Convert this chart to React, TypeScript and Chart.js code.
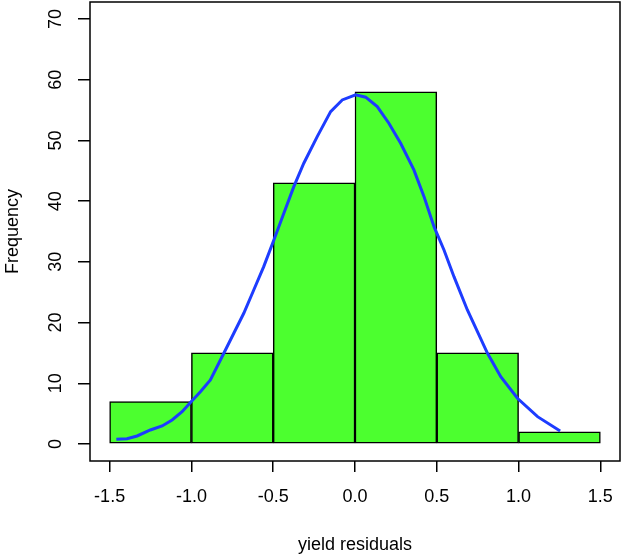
import React, { useEffect, useRef } from "react";
import { Chart, registerables } from "chart.js";

Chart.register(...registerables);

const binCenters = [-1.25, -0.75, -0.25, 0.25, 0.75, 1.25];
const binCounts = [7, 15, 43, 58, 15, 2];

const curveX = [-1.459, -1.394, -1.332, -1.251, -1.179, -1.118, -1.057, -1.002, -0.945, -0.884, -0.802, -0.741, -0.68, -0.619, -0.558, -0.496, -0.435, -0.374, -0.313, -0.231, -0.149, -0.078, 0.004, 0.065, 0.136, 0.207, 0.279, 0.36, 0.422, 0.483, 0.544, 0.605, 0.687, 0.81, 0.891, 0.993, 1.116, 1.254];
const curveY = [0.77, 0.87, 1.32, 2.31, 2.97, 3.95, 5.32, 6.97, 8.62, 10.54, 14.94, 18.24, 21.53, 25.37, 29.21, 33.61, 38.01, 42.39, 46.24, 50.63, 54.74, 56.67, 57.5, 57.12, 55.57, 52.83, 49.54, 45.14, 40.74, 35.8, 31.96, 27.56, 22.08, 14.94, 11.09, 7.53, 4.5, 2.14];

const xTicks = [-1.5, -1.0, -0.5, 0.0, 0.5, 1.0, 1.5];
const yTicks = [0, 10, 20, 30, 40, 50, 60, 70];

const xLabel = "yield residuals";
const yLabel = "Frequency";

const FONT = "'Liberation Sans', Arial, Helvetica, sans-serif";

const boxPlugin = {
  id: "boxPlugin",
  afterDraw(chart: any) {
    const { ctx, chartArea } = chart;
    ctx.save();
    ctx.strokeStyle = "#000";
    ctx.lineWidth = 1.5;
    ctx.strokeRect(chartArea.left, chartArea.top, chartArea.right - chartArea.left, chartArea.bottom - chartArea.top);
    ctx.restore();
  },
};

export default function App() {
  const ref = useRef<HTMLCanvasElement | null>(null);

  useEffect(() => {
    if (!ref.current) return;
    const chart = new Chart(ref.current, {
      type: "bar",
      data: {
        datasets: [
          {
            type: "line",
            data: curveX.map((x, i) => ({ x, y: curveY[i] })),
            borderColor: "#1d3cff",
            borderWidth: 3,
            pointRadius: 0,
            tension: 0,
            fill: false,
            order: 0,
          } as any,
          {
            type: "bar",
            data: binCenters.map((x, i) => ({ x, y: binCounts[i] })),
            backgroundColor: "#4cff2f",
            borderColor: "#000",
            borderWidth: 1.5,
            borderSkipped: false,
            barPercentage: 1,
            categoryPercentage: 1,
            order: 1,
          } as any,
        ],
      },
      options: {
        animation: false,
        responsive: false,
        maintainAspectRatio: false,
        layout: { padding: { left: 0, top: 2, right: 1, bottom: 0 } },
        plugins: { legend: { display: false }, tooltip: { enabled: false } },
        scales: {
          x: {
            type: "linear",
            min: -1.62,
            max: 1.62,
            offset: false,
            afterBuildTicks: (s: any) => {
              s.ticks = xTicks.map((v) => ({ value: v }));
            },
            afterFit: (s: any) => {
              s.height = 97;
              s.paddingLeft = 0;
              s.paddingRight = 0;
            },
            grid: {
              display: true,
              drawOnChartArea: false,
              drawTicks: true,
              tickLength: 11,
              color: "#000",
              lineWidth: 1.5,
              offset: false,
            },
            border: { display: false },
            ticks: {
              autoSkip: false,
              maxRotation: 0,
              minRotation: 0,
              padding: 14,
              color: "#000",
              font: { family: FONT, size: 18 },
              callback: (v: any) => Number(v).toFixed(1),
            },
            title: {
              display: true,
              text: xLabel,
              color: "#000",
              font: { family: FONT, size: 18 },
              padding: { top: 0, bottom: 2 },
            },
          },
          y: {
            type: "linear",
            min: -2.8,
            max: 72.8,
            afterBuildTicks: (s: any) => {
              s.ticks = yTicks.map((v) => ({ value: v }));
            },
            afterFit: (s: any) => {
              s.width = 90;
              s.paddingTop = 0;
              s.paddingBottom = 0;
            },
            grid: {
              display: true,
              drawOnChartArea: false,
              drawTicks: true,
              tickLength: 12,
              color: "#000",
              lineWidth: 1.5,
            },
            border: { display: false },
            ticks: {
              autoSkip: false,
              minRotation: 90,
              maxRotation: 90,
              crossAlign: "center",
              padding: 12,
              color: "#000",
              font: { family: FONT, size: 18 },
              callback: (v: any) => String(v),
            },
            title: {
              display: true,
              text: yLabel,
              color: "#000",
              font: { family: FONT, size: 18 },
              padding: { top: 2, bottom: 0 },
            },
          },
        },
      },
      plugins: [boxPlugin],
    });
    return () => chart.destroy();
  }, []);

  return (
    <div style={{ position: "absolute", left: 0, top: 0, width: 621, height: 558, background: "#fff" }}>
      <canvas ref={ref} width={621} height={558} style={{ width: 621, height: 558, display: "block" }} />
    </div>
  );
}
